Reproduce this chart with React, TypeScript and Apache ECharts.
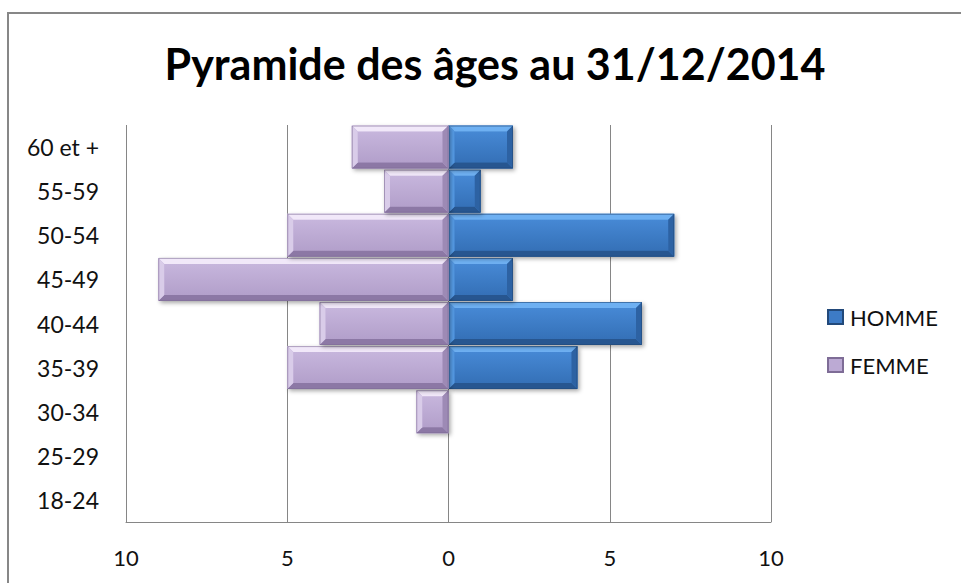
import React, { useEffect, useRef } from "react";
import * as echarts from "echarts";

const categories = ["18-24", "25-29", "30-34", "35-39", "40-44", "45-49", "50-54", "55-59", "60 et +"];
const homme = [0, 0, 0, 4, 6, 2, 7, 1, 2];
const femme = [0, 0, 1, 5, 4, 9, 5, 2, 3];
const titleText = "Pyramide des âges au 31/12/2014";
const seriesNames = ["HOMME", "FEMME"];

const FONT = "Lato, 'Noto Sans', sans-serif";

const palettes = [
  { base: "#3d7bc6", baseTop: "#4688d4", baseBot: "#3571b8", top: "#6eb0f2", left: "#559ae4", right: "#2d62a3", bottom: "#275690", edge: "#22497a" },
  { base: "#bcaad4", baseTop: "#c6b5dc", baseBot: "#b3a0cb", top: "#f1e8f9", left: "#d9cce9", right: "#9d8ab5", bottom: "#8c78a5", edge: "#7e6c96" },
];

function makeRender(pal: any) {
  return (params: any, api: any) => {
    const v = api.value(0);
    const c = api.value(1);
    if (!v) return null;
    const p0 = api.coord([0, c]);
    const p1 = api.coord([v, c]);
    const bandH = api.size([0, 1])[1];
    const h = bandH * 0.975;
    const x0 = Math.min(p0[0], p1[0]);
    const x1 = Math.max(p0[0], p1[0]);
    const y0 = p0[1] - h / 2;
    const y1 = p0[1] + h / 2;
    const w = x1 - x0;
    const b = Math.min(6, w / 2, h / 2);
    return {
      type: "group",
      children: [
        {
          type: "rect",
          shape: { x: x0, y: y0, width: w, height: h },
          style: { fill: pal.base, shadowBlur: 4, shadowOffsetX: 2, shadowOffsetY: 2, shadowColor: "rgba(0,0,0,0.35)" },
        },
        {
          type: "rect",
          shape: { x: x0 + b, y: y0 + b, width: w - 2 * b, height: h - 2 * b },
          style: {
            fill: new echarts.graphic.LinearGradient(0, 0, 0, 1, [
              { offset: 0, color: pal.baseTop },
              { offset: 1, color: pal.baseBot },
            ]),
          },
        },
        { type: "polygon", shape: { points: [[x0, y0], [x1, y0], [x1 - b, y0 + b], [x0 + b, y0 + b]] }, style: { fill: pal.top } },
        { type: "polygon", shape: { points: [[x0, y1], [x1, y1], [x1 - b, y1 - b], [x0 + b, y1 - b]] }, style: { fill: pal.bottom } },
        { type: "polygon", shape: { points: [[x0, y0], [x0 + b, y0 + b], [x0 + b, y1 - b], [x0, y1]] }, style: { fill: pal.left } },
        { type: "polygon", shape: { points: [[x1, y0], [x1 - b, y0 + b], [x1 - b, y1 - b], [x1, y1]] }, style: { fill: pal.right } },
        {
          type: "rect",
          shape: { x: x0 + 0.5, y: y0 + 0.5, width: w - 1, height: h - 1 },
          style: { fill: "none", stroke: pal.edge, lineWidth: 1, opacity: 0.6 },
        },
      ],
    };
  };
}

export default function App() {
  const ref = useRef<HTMLDivElement>(null);
  useEffect(() => {
    if (!ref.current) return;
    const chart = echarts.init(ref.current, undefined, { renderer: "svg" });
    chart.setOption({
      animation: false,
      backgroundColor: "#ffffff",
      title: {
        text: titleText,
        left: 490,
        top: 37,
        textAlign: "center",
        textStyle: { fontFamily: FONT, fontSize: 43, fontWeight: "bold", color: "#000000" },
      },
      graphic: [
        {
          type: "rect",
          silent: true,
          z: -10,
          shape: { x: 8, y: 13, width: 1200, height: 1200 },
          style: { fill: "none", stroke: "#878787", lineWidth: 2 },
        },
      ],
      legend: {
        orient: "vertical",
        left: 822,
        top: 301,
        itemWidth: 15,
        itemHeight: 14,
        itemGap: 26,
        icon: "rect",
        data: seriesNames,
        textStyle: { fontFamily: FONT, fontSize: 22, color: "#111111", padding: [0, 0, 0, 2] },
      },
      grid: { left: 126, right: 190, top: 125, bottom: 61, containLabel: false },
      xAxis: {
        type: "value",
        min: -10,
        max: 10,
        interval: 5,
        axisLine: { show: true, onZero: false, lineStyle: { color: "#868686" } },
        axisTick: { show: false },
        splitLine: { show: true, lineStyle: { color: "#868686", width: 1 } },
        axisLabel: {
          margin: 24,
          fontFamily: FONT,
          fontSize: 22,
          color: "#111111",
          formatter: (v: number) => String(Math.abs(v)),
        },
      },
      yAxis: {
        type: "category",
        data: categories,
        axisLine: { show: false, onZero: false },
        axisTick: { show: false },
        axisLabel: { margin: 27, fontFamily: FONT, fontSize: 23, color: "#111111" },
      },
      series: [
        {
          name: seriesNames[0],
          type: "custom",
          itemStyle: { color: palettes[0].base, borderColor: palettes[0].edge, borderWidth: 1 },
          encode: { x: 0, y: 1 },
          renderItem: makeRender(palettes[0]),
          data: homme.map((v, i) => [v, i]),
        },
        {
          name: seriesNames[1],
          type: "custom",
          itemStyle: { color: palettes[1].base, borderColor: palettes[1].edge, borderWidth: 1 },
          encode: { x: 0, y: 1 },
          renderItem: makeRender(palettes[1]),
          data: femme.map((v, i) => [-v, i]),
        },
      ],
    });
    return () => chart.dispose();
  }, []);
  return <div ref={ref} style={{ position: "absolute", left: 0, top: 0, width: 961, height: 583 }} />;
}
